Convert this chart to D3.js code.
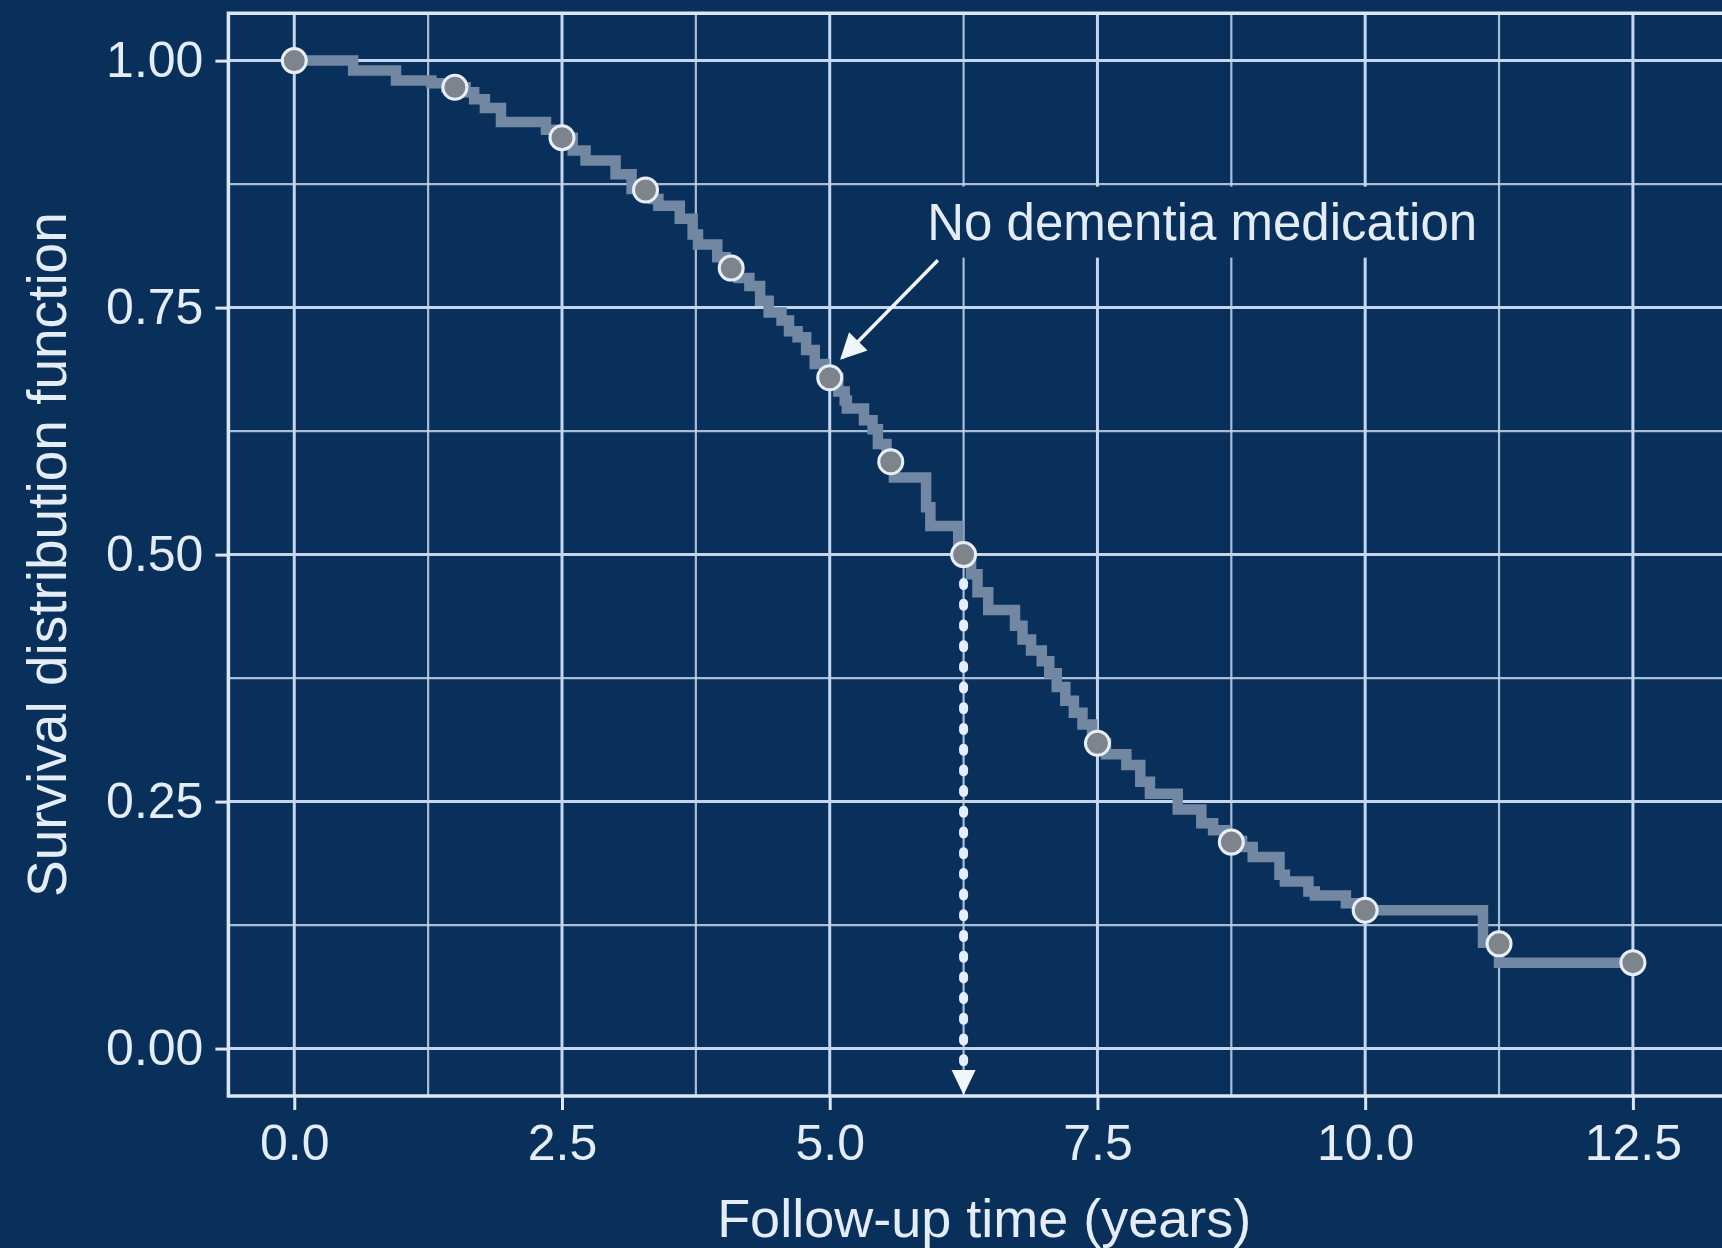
<!DOCTYPE html>
<html>
<head>
<meta charset="utf-8">
<script src="https://cdn.jsdelivr.net/npm/d3@7"></script>
<style>
  html, body { margin: 0; padding: 0; background: #08305b; overflow: hidden; }
  svg { display: block; }
  text { font-family: "Liberation Sans", Arial, Helvetica, sans-serif; }
</style>
</head>
<body>
<svg id="chart" width="1722" height="1248"></svg>
<script>
// Kaplan-Meier estimate: event times (years) and survival after each event
const eventTimes = [0, 0.55, 0.95, 1.28, 1.42, 1.60, 1.68, 1.78, 1.93, 2.35, 2.44, 2.60, 2.72, 3.00, 3.15,
  3.35, 3.40, 3.60, 3.72, 3.77, 3.95, 4.03, 4.15, 4.25, 4.35, 4.43, 4.55, 4.62, 4.70, 4.78, 4.86, 4.95,
  5.08, 5.14, 5.16, 5.32, 5.40, 5.45, 5.53, 5.60, 5.90, 5.94, 6.20, 6.32, 6.38, 6.48, 6.73, 6.80, 6.88,
  6.98, 7.05, 7.12, 7.20, 7.28, 7.36, 7.45, 7.58, 7.77, 7.90, 7.99, 8.25, 8.47, 8.58, 8.70, 8.85, 8.95,
  9.20, 9.25, 9.47, 9.53, 9.82, 9.95, 11.10, 11.25];
const survival = [1.000, 0.990, 0.980, 0.977, 0.973, 0.968, 0.961, 0.952, 0.938, 0.930, 0.922, 0.909, 0.899, 0.885, 0.870,
  0.860, 0.853, 0.840, 0.824, 0.814, 0.801, 0.790, 0.780, 0.772, 0.757, 0.745, 0.737, 0.726, 0.720, 0.707, 0.693, 0.679,
  0.665, 0.656, 0.648, 0.636, 0.627, 0.612, 0.594, 0.578, 0.548, 0.529, 0.500, 0.480, 0.462, 0.444, 0.428, 0.414, 0.403,
  0.392, 0.380, 0.366, 0.352, 0.340, 0.328, 0.309, 0.298, 0.287, 0.270, 0.258, 0.242, 0.228, 0.221, 0.210, 0.204, 0.194,
  0.176, 0.169, 0.159, 0.155, 0.147, 0.140, 0.107, 0.087];
const lastFollowUp = 12.5;

// Marked points along the curve
const markTimes = [0, 1.5, 2.5, 3.28, 4.08, 5.0, 5.57, 6.25, 7.5, 8.75, 10.0, 11.25, 12.5];
const markSurv  = [1.000, 0.973, 0.922, 0.869, 0.790, 0.679, 0.594, 0.500, 0.309, 0.209, 0.140, 0.106, 0.087];

// Median survival
const medianTime = 6.25;
const medianSurv = 0.5;

// Axis ticks
const xTicks = [0, 2.5, 5.0, 7.5, 10.0, 12.5];
const xMinor = [1.25, 3.75, 6.25, 8.75, 11.25, 13.75];
const yTicks = [0, 0.25, 0.5, 0.75, 1.0];
const yMinor = [0.125, 0.375, 0.625, 0.875];

const labelText = "No dementia medication";
const xTitle = "Follow-up time (years)";
const yTitle = "Survival distribution function";

// ---- layout ----
const W = 1722, H = 1248;
const panel = { left: 228.4, top: 13.2, right: 1740, bottom: 1096 };
const bg = "#09305b";
const gridCol = "#c4d6ee";
const textCol = "#e4ecf6";

const x = d3.scaleLinear().domain([-0.615, 13.5]).range([panel.left, panel.right]);
const y = d3.scaleLinear().domain([-0.048, 1.048]).range([panel.bottom, panel.top]);

const svg = d3.select("#chart");
svg.append("rect").attr("width", W).attr("height", H).attr("fill", bg);

const defs = svg.append("defs");
defs.append("clipPath").attr("id", "panelClip")
  .append("rect")
  .attr("x", panel.left).attr("y", panel.top)
  .attr("width", panel.right - panel.left).attr("height", panel.bottom - panel.top);

defs.append("marker")
  .attr("id", "head")
  .attr("viewBox", "0 0 10 10")
  .attr("refX", 9).attr("refY", 5)
  .attr("markerUnits", "userSpaceOnUse")
  .attr("markerWidth", 30).attr("markerHeight", 26)
  .attr("orient", "auto")
  .append("path").attr("d", "M0,0 L10,5 L0,10 Z").attr("fill", "#f2f6fb");

const plot = svg.append("g").attr("clip-path", "url(#panelClip)");

// ---- grid ----
plot.append("g").selectAll("line.vmin").data(xMinor).join("line")
  .attr("x1", d => x(d)).attr("x2", d => x(d))
  .attr("y1", panel.top).attr("y2", panel.bottom)
  .attr("stroke", gridCol).attr("stroke-width", 2.2).attr("stroke-opacity", 0.85);
plot.append("g").selectAll("line.hmin").data(yMinor).join("line")
  .attr("y1", d => y(d)).attr("y2", d => y(d))
  .attr("x1", panel.left).attr("x2", panel.right)
  .attr("stroke", gridCol).attr("stroke-width", 2.2).attr("stroke-opacity", 0.85);
plot.append("g").selectAll("line.vmaj").data(xTicks).join("line")
  .attr("x1", d => x(d)).attr("x2", d => x(d))
  .attr("y1", panel.top).attr("y2", panel.bottom)
  .attr("stroke", gridCol).attr("stroke-width", 3);
plot.append("g").selectAll("line.hmaj").data(yTicks).join("line")
  .attr("y1", d => y(d)).attr("y2", d => y(d))
  .attr("x1", panel.left).attr("x2", panel.right)
  .attr("stroke", gridCol).attr("stroke-width", 3);

// ---- survival step curve ----
const stepPts = eventTimes.map((t, i) => [t, survival[i]]);
stepPts.push([lastFollowUp, survival[survival.length - 1]]);
const stepLine = d3.line().x(d => x(d[0])).y(d => y(d[1])).curve(d3.curveStepAfter);
plot.append("path")
  .attr("d", stepLine(stepPts))
  .attr("fill", "none")
  .attr("stroke", "#7287a2")
  .attr("stroke-width", 10.5)
  .attr("stroke-linejoin", "miter");

// ---- median drop line ----
const dotStartY = y(medianSurv) + 28;
const headLen = 26;
plot.append("line")
  .attr("x1", x(medianTime)).attr("x2", x(medianTime))
  .attr("y1", dotStartY).attr("y2", panel.bottom - headLen)
  .attr("stroke", "#e3efff").attr("stroke-width", 9)
  .attr("stroke-linecap", "round").attr("stroke-dasharray", "3 17.7");
plot.append("path")
  .attr("d", `M${x(medianTime) - 12},${panel.bottom - headLen} L${x(medianTime) + 12},${panel.bottom - headLen} L${x(medianTime)},${panel.bottom - 1} Z`)
  .attr("fill", "#f2f6fb");

// ---- marked points ----
plot.append("g").selectAll("circle").data(markTimes.map((t, i) => [t, markSurv[i]])).join("circle")
  .attr("cx", d => x(d[0])).attr("cy", d => y(d[1]))
  .attr("r", 12)
  .attr("fill", "#7e848c")
  .attr("stroke", "#e8eef6").attr("stroke-width", 3);

// ---- annotation label with background box ----
const labelX = 5.91, labelY = 0.837;
const lbl = plot.append("g");
const lblText = lbl.append("text")
  .attr("x", x(labelX)).attr("y", y(labelY))
  .attr("dy", "0.36em")
  .attr("font-size", 51)
  .attr("fill", textCol)
  .text(labelText);
const bb = lblText.node().getBBox();
lbl.insert("rect", "text")
  .attr("x", bb.x - 12).attr("y", y(labelY) - 35)
  .attr("width", bb.width + 24).attr("height", 71)
  .attr("fill", bg);

// Arrow from label to curve
plot.append("line")
  .attr("x1", x(6.01)).attr("y1", y(0.798))
  .attr("x2", x(5.114)).attr("y2", y(0.699))
  .attr("stroke", "#f2f6fb").attr("stroke-width", 3.5)
  .attr("marker-end", "url(#head)");

// ---- panel border (left, top, bottom) ----
svg.append("path")
  .attr("d", `M${panel.right},${panel.top} L${panel.left},${panel.top} L${panel.left},${panel.bottom} L${panel.right},${panel.bottom}`)
  .attr("fill", "none").attr("stroke", "#dce7f5").attr("stroke-width", 3.5);

// ---- axes ----
const yAxis = d3.axisLeft(y).tickValues(yTicks).tickFormat(d3.format(".2f")).tickSize(13).tickPadding(12);
const gy = svg.append("g").attr("transform", `translate(${panel.left},0)`).call(yAxis);
const xAxis = d3.axisBottom(x).tickValues(xTicks).tickFormat(d3.format(".1f")).tickSize(14).tickPadding(14);
const gx = svg.append("g").attr("transform", `translate(0,${panel.bottom})`).call(xAxis);
[gx, gy].forEach(g => {
  g.select(".domain").remove();
  g.selectAll(".tick line").attr("stroke", "#dce7f5").attr("stroke-width", 3);
  g.selectAll(".tick text").attr("fill", textCol).attr("font-size", 50)
    .attr("font-family", '"Liberation Sans", Arial, Helvetica, sans-serif');
});

// ---- axis titles ----
svg.append("text")
  .attr("x", (panel.left + panel.right) / 2).attr("y", 1237)
  .attr("text-anchor", "middle")
  .attr("font-size", 54).attr("fill", textCol)
  .text(xTitle);
svg.append("text")
  .attr("transform", `translate(66,${(panel.top + panel.bottom) / 2}) rotate(-90)`)
  .attr("text-anchor", "middle")
  .attr("font-size", 55).attr("fill", textCol)
  .text(yTitle);
</script>
</body>
</html>
